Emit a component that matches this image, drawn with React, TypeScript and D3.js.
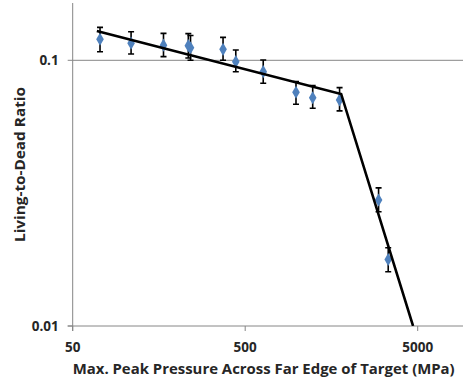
import * as d3 from "d3";
import { useEffect, useRef } from "react";

// Measured points (pressure in MPa, living-to-dead ratio)
const pressure = [72, 109, 168, 234, 241, 372, 441, 636, 985, 1231, 1762, 2966, 3373];
const ratio = [0.12, 0.116, 0.114, 0.1135, 0.1115, 0.11, 0.0988, 0.0906, 0.0758, 0.0723, 0.0709, 0.0298, 0.0178];
const errHigh = [0.133, 0.128, 0.1263, 0.126, 0.124, 0.122, 0.1093, 0.1003, 0.0831, 0.0803, 0.0789, 0.0331, 0.0197];
const errLow = [0.1077, 0.1056, 0.1032, 0.102, 0.1, 0.1, 0.0906, 0.082, 0.0683, 0.066, 0.0645, 0.0269, 0.016];

// Piecewise fitted line
const trendX = [69, 1800, 4700];
const trendY = [0.129, 0.0747, 0.01];

const xTicks = [50, 500, 5000];
const yTicks = [0.1, 0.01];
const yTickLabels = ["0.1", "0.01"];

const xTitle = "Max. Peak Pressure Across Far Edge of Target (MPa)";
const yTitle = "Living-to-Dead Ratio";

const App = () => {
  const ref = useRef<SVGSVGElement | null>(null);

  useEffect(() => {
    const width = 464;
    const height = 381;
    const left = 72.7;
    const right = 463;
    const top = 3;
    const bottom = 326;

    const svg = d3.select(ref.current);
    svg.selectAll("*").remove();
    svg.attr("width", width).attr("height", height);

    const x = d3.scaleLog().domain([50, 5000]).range([left, 417.7]);
    const y = d3.scaleLog().domain([0.01, 0.1]).range([bottom, 60.3]);

    const axisColor = "#868686";
    const textColor = "#262626";
    const font = "'Open Sans', 'DejaVu Sans', sans-serif";

    svg
      .append("defs")
      .append("clipPath")
      .attr("id", "plot-clip")
      .append("rect")
      .attr("x", left)
      .attr("y", top)
      .attr("width", right - left)
      .attr("height", bottom - top);

    // gridline at 0.1
    svg
      .append("line")
      .attr("x1", left)
      .attr("x2", right)
      .attr("y1", y(0.1))
      .attr("y2", y(0.1))
      .attr("stroke", axisColor)
      .attr("stroke-width", 1);

    // y axis
    const yAxis = svg.append("g").attr("transform", `translate(${left},0)`);
    yAxis
      .append("line")
      .attr("y1", top)
      .attr("y2", bottom + 5)
      .attr("stroke", axisColor);
    yTicks.forEach((t, i) => {
      yAxis
        .append("line")
        .attr("x1", -5)
        .attr("x2", 0)
        .attr("y1", y(t))
        .attr("y2", y(t))
        .attr("stroke", axisColor);
      yAxis
        .append("text")
        .attr("x", -14)
        .attr("y", y(t) + 5)
        .attr("text-anchor", "end")
        .attr("font-family", font)
        .attr("font-weight", "bold")
        .attr("font-size", 13.5)
        .attr("fill", textColor)
        .text(yTickLabels[i]);
    });

    // x axis
    const xAxis = svg.append("g").attr("transform", `translate(0,${bottom})`);
    xAxis
      .append("line")
      .attr("x1", left - 5)
      .attr("x2", right)
      .attr("stroke", axisColor);
    xTicks.forEach((t) => {
      xAxis
        .append("line")
        .attr("x1", x(t))
        .attr("x2", x(t))
        .attr("y1", 0)
        .attr("y2", 5)
        .attr("stroke", axisColor);
      xAxis
        .append("text")
        .attr("x", x(t))
        .attr("y", 26)
        .attr("text-anchor", "middle")
        .attr("font-family", font)
        .attr("font-weight", "bold")
        .attr("font-size", 13.5)
        .attr("fill", textColor)
        .text(String(t));
    });

    // axis titles
    svg
      .append("text")
      .attr("x", left)
      .attr("y", 374)
      .attr("font-family", font)
      .attr("font-weight", "bold")
      .attr("font-size", 14.5)
      .attr("fill", textColor)
      .attr("textLength", 382)
      .attr("lengthAdjust", "spacingAndGlyphs")
      .text(xTitle);

    svg
      .append("text")
      .attr("transform", `translate(25,${242}) rotate(-90)`)
      .attr("font-family", font)
      .attr("font-weight", "bold")
      .attr("font-size", 14.5)
      .attr("fill", textColor)
      .attr("textLength", 155)
      .attr("lengthAdjust", "spacingAndGlyphs")
      .text(yTitle);

    const plot = svg.append("g").attr("clip-path", "url(#plot-clip)");
    const idx = d3.range(pressure.length);

    // error bars
    const err = plot.append("g").attr("stroke", "#000").attr("stroke-width", 1.6);
    idx.forEach((i) => {
      const px = x(pressure[i]);
      err
        .append("line")
        .attr("x1", px)
        .attr("x2", px)
        .attr("y1", y(errHigh[i]))
        .attr("y2", y(errLow[i]));
      [errHigh[i], errLow[i]].forEach((v) => {
        err
          .append("line")
          .attr("x1", px - 3)
          .attr("x2", px + 3)
          .attr("y1", y(v))
          .attr("y2", y(v));
      });
    });

    // markers
    const diamond = d3.symbol(d3.symbolDiamond, 50);
    plot
      .selectAll("path.pt")
      .data(idx)
      .enter()
      .append("path")
      .attr("class", "pt")
      .attr("d", diamond() as string)
      .attr("transform", (i) => `translate(${x(pressure[i])},${y(ratio[i])})`)
      .attr("fill", "#4f81bd");

    // trend line
    const line = d3
      .line<number>()
      .x((i) => x(trendX[i]))
      .y((i) => y(trendY[i]));
    plot
      .append("path")
      .attr("d", line(d3.range(trendX.length)) as string)
      .attr("fill", "none")
      .attr("stroke", "#000")
      .attr("stroke-width", 2.6);
  }, []);

  return (
    <svg
      ref={ref}
      style={{ position: "absolute", left: 0, top: 0, background: "#fff" }}
    />
  );
};

export default App;
